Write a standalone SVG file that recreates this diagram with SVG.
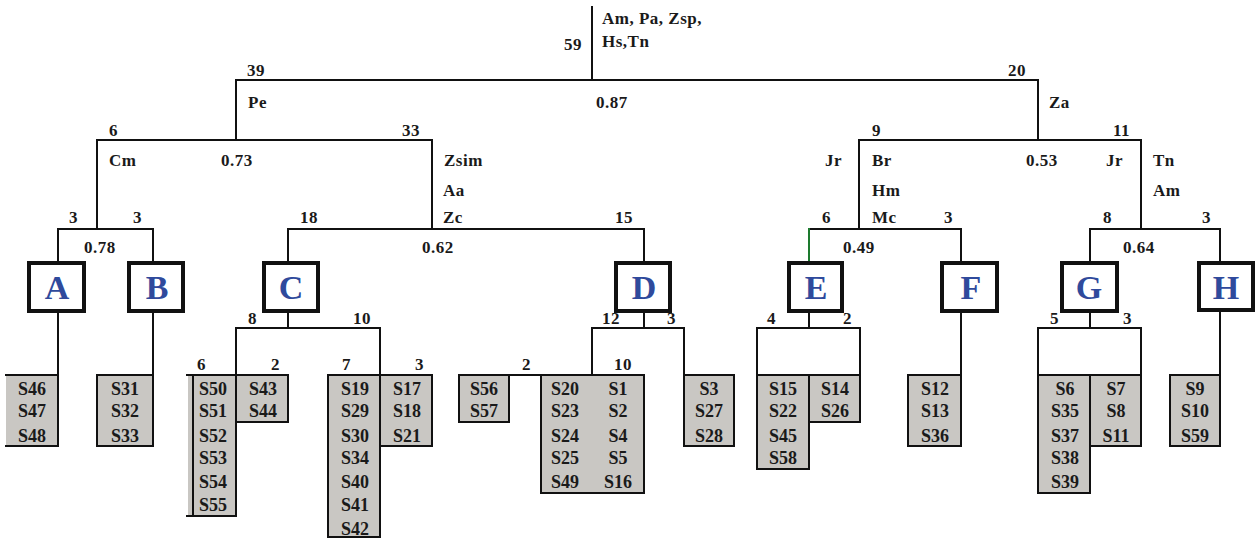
<svg xmlns="http://www.w3.org/2000/svg" width="1256" height="539" viewBox="0 0 1256 539">
<style>
.ln{stroke:#111;stroke-width:2;fill:none;stroke-linecap:square}
.lbl{font-family:"Liberation Serif","Times New Roman",serif;font-weight:bold;font-size:17px;fill:#1a1a1a;letter-spacing:0.5px}
.lt{font-family:"Liberation Serif","Times New Roman",serif;font-weight:bold;font-size:18px;fill:#1a1a1a;text-anchor:middle}
.leaf{fill:#c9c7c3}
.nb{fill:#fff;stroke:#111;stroke-width:4}
.nt{font-family:"Liberation Serif","Times New Roman",serif;font-weight:bold;font-size:34px;fill:#2f4a9c;text-anchor:middle}
</style>
<rect width="1256" height="539" fill="#fff"/>
<g id="connectors" class="ln">
<path d="M592 7V80M236 80H1038M236 80V140M1038 80V140"/>
<path d="M97 140H432M97 140V229M432 140V229M58 229H153M58 229V263M153 229V263"/>
<path d="M288 229H644M288 229V263M644 229V263"/>
<path d="M859 140H1141M859 140V229M1141 140V229"/>
<path d="M809 229H961M961 229V263"/>
<path d="M1090 229H1220M1090 229V263M1220 229V263"/>
<path d="M58 313V375M153 313V375"/>
<path d="M288 313V328M236 328H380M236 328V375M380 328V375"/>
<path d="M644 313V328M592 328H684M592 328V375M684 328V375"/>
<path d="M809 313V328M757 328H860M757 328V375M860 328V375"/>
<path d="M961 313V375M1220 312V375"/>
<path d="M1090 313V328M1038 328H1141M1038 328V375M1141 328V375"/>
<path d="M809 229V261" style="stroke:#1d7a2e"/>
</g>
<g id="labels" class="lbl">
<text x="602" y="24">Am, Pa, Zsp,</text>
<text x="602" y="47">Hs,Tn</text>
<text x="564" y="50">59</text>
<text x="247" y="76">39</text>
<text x="248" y="108">Pe</text>
<text x="596" y="108">0.87</text>
<text x="1008" y="76">20</text>
<text x="1049" y="108">Za</text>
<text x="109" y="136">6</text>
<text x="109" y="166">Cm</text>
<text x="221" y="166">0.73</text>
<text x="402" y="136">33</text>
<text x="444" y="166">Zsim</text>
<text x="443" y="196">Aa</text>
<text x="443" y="223">Zc</text>
<text x="69" y="223">3</text>
<text x="133" y="223">3</text>
<text x="84" y="253">0.78</text>
<text x="300" y="223">18</text>
<text x="615" y="223">15</text>
<text x="422" y="253">0.62</text>
<text x="872" y="136">9</text>
<text x="1113" y="136">11</text>
<text x="825" y="166">Jr</text>
<text x="872" y="166">Br</text>
<text x="1026" y="166">0.53</text>
<text x="1106" y="166">Jr</text>
<text x="1153" y="166">Tn</text>
<text x="872" y="196">Hm</text>
<text x="872" y="223">Mc</text>
<text x="1153" y="196">Am</text>
<text x="822" y="223">6</text>
<text x="944" y="223">3</text>
<text x="843" y="253">0.49</text>
<text x="1103" y="223">8</text>
<text x="1202" y="223">3</text>
<text x="1123" y="253">0.64</text>
<text x="248" y="324">8</text>
<text x="353" y="324">10</text>
<text x="602" y="324">12</text>
<text x="667" y="324">3</text>
<text x="767" y="324">4</text>
<text x="843" y="324">2</text>
<text x="1050" y="324">5</text>
<text x="1123" y="324">3</text>
<text x="197" y="370">6</text>
<text x="271" y="370">2</text>
<text x="342" y="370">7</text>
<text x="415" y="370">3</text>
<text x="522" y="370">2</text>
<text x="614" y="370">10</text>
</g>
<g id="node-A"><rect class="nb" x="29" y="263" width="55" height="48"/><text class="nt" x="57" y="299">A</text></g>
<g id="node-B"><rect class="nb" x="129" y="263" width="54" height="48"/><text class="nt" x="157" y="299">B</text></g>
<g id="node-C"><rect class="nb" x="264" y="263" width="54" height="48"/><text class="nt" x="291" y="299">C</text></g>
<g id="node-D"><rect class="nb" x="616" y="263" width="54" height="48"/><text class="nt" x="644" y="299">D</text></g>
<g id="node-E"><rect class="nb" x="789" y="263" width="53" height="48"/><text class="nt" x="816" y="299">E</text></g>
<g id="node-F"><rect class="nb" x="942" y="263" width="55" height="48"/><text class="nt" x="971" y="299">F</text></g>
<g id="node-G"><rect class="nb" x="1062" y="263" width="55" height="48"/><text class="nt" x="1089" y="299">G</text></g>
<g id="node-H"><rect class="nb" x="1199" y="263" width="54" height="47"/><text class="nt" x="1226" y="299">H</text></g>
<g id="leaf-A">
<rect class="leaf" x="6" y="375" width="52" height="71"/>
<path class="ln" d="M6 375H58V446H6"/>
<text class="lt" x="32" y="395">S46</text><text class="lt" x="32" y="417">S47</text><text class="lt" x="32" y="442">S48</text>
</g>
<g id="leaf-B">
<rect class="leaf" x="97" y="375" width="56" height="71"/>
<rect class="ln" x="97" y="375" width="56" height="71"/>
<text class="lt" x="125" y="395">S31</text><text class="lt" x="125" y="417">S32</text><text class="lt" x="125" y="442">S33</text>
</g>
<g id="leaf-C1">
<rect class="leaf" x="188" y="375" width="48" height="141"/>
<path class="ln" d="M187 375H236V516H187M193 375V516"/>
<text class="lt" x="213" y="395">S50</text><text class="lt" x="213" y="417">S51</text><text class="lt" x="213" y="442">S52</text><text class="lt" x="213" y="464">S53</text><text class="lt" x="213" y="488">S54</text><text class="lt" x="213" y="511">S55</text>
</g>
<g id="leaf-C2">
<rect class="leaf" x="236" y="375" width="52" height="47"/>
<rect class="ln" x="236" y="375" width="52" height="47"/>
<text class="lt" x="263" y="395">S43</text><text class="lt" x="263" y="417">S44</text>
</g>
<g id="leaf-C3">
<rect class="leaf" x="328" y="375" width="52" height="163"/>
<rect class="ln" x="328" y="375" width="52" height="162"/>
<text class="lt" x="355" y="395">S19</text><text class="lt" x="355" y="417">S29</text><text class="lt" x="355" y="442">S30</text><text class="lt" x="355" y="464">S34</text><text class="lt" x="355" y="488">S40</text><text class="lt" x="355" y="511">S41</text><text class="lt" x="355" y="535">S42</text>
</g>
<g id="leaf-C4">
<rect class="leaf" x="380" y="375" width="52" height="71"/>
<rect class="ln" x="380" y="375" width="52" height="71"/>
<text class="lt" x="407" y="395">S17</text><text class="lt" x="407" y="417">S18</text><text class="lt" x="407" y="442">S21</text>
</g>
<g id="leaf-D1">
<rect class="leaf" x="459" y="375" width="50" height="47"/>
<rect class="ln" x="459" y="375" width="50" height="47"/>
<text class="lt" x="484" y="395">S56</text><text class="lt" x="484" y="417">S57</text>
</g>
<path class="ln" d="M509 375H541"/>
<g id="leaf-D2">
<rect class="leaf" x="541" y="375" width="103" height="118"/>
<rect class="ln" x="541" y="375" width="103" height="118"/>
<text class="lt" x="565" y="395">S20</text><text class="lt" x="565" y="417">S23</text><text class="lt" x="565" y="442">S24</text><text class="lt" x="565" y="464">S25</text><text class="lt" x="565" y="488">S49</text>
<text class="lt" x="618" y="395">S1</text><text class="lt" x="618" y="417">S2</text><text class="lt" x="618" y="442">S4</text><text class="lt" x="618" y="464">S5</text><text class="lt" x="618" y="488">S16</text>
</g>
<g id="leaf-D3">
<rect class="leaf" x="684" y="375" width="50" height="71"/>
<rect class="ln" x="684" y="375" width="50" height="71"/>
<text class="lt" x="709" y="395">S3</text><text class="lt" x="709" y="417">S27</text><text class="lt" x="709" y="442">S28</text>
</g>
<g id="leaf-E1">
<rect class="leaf" x="757" y="375" width="52" height="94"/>
<rect class="ln" x="757" y="375" width="52" height="94"/>
<text class="lt" x="783" y="395">S15</text><text class="lt" x="783" y="417">S22</text><text class="lt" x="783" y="442">S45</text><text class="lt" x="783" y="464">S58</text>
</g>
<g id="leaf-E2">
<rect class="leaf" x="809" y="375" width="51" height="47"/>
<rect class="ln" x="809" y="375" width="51" height="47"/>
<text class="lt" x="835" y="395">S14</text><text class="lt" x="835" y="417">S26</text>
</g>
<g id="leaf-F">
<rect class="leaf" x="908" y="375" width="53" height="71"/>
<rect class="ln" x="908" y="375" width="53" height="71"/>
<text class="lt" x="935" y="395">S12</text><text class="lt" x="935" y="417">S13</text><text class="lt" x="935" y="442">S36</text>
</g>
<g id="leaf-G1">
<rect class="leaf" x="1038" y="375" width="52" height="118"/>
<rect class="ln" x="1038" y="375" width="52" height="118"/>
<text class="lt" x="1065" y="395">S6</text><text class="lt" x="1065" y="417">S35</text><text class="lt" x="1065" y="442">S37</text><text class="lt" x="1065" y="464">S38</text><text class="lt" x="1065" y="488">S39</text>
</g>
<g id="leaf-G2">
<rect class="leaf" x="1090" y="375" width="51" height="71"/>
<rect class="ln" x="1090" y="375" width="51" height="71"/>
<text class="lt" x="1116" y="395">S7</text><text class="lt" x="1116" y="417">S8</text><text class="lt" x="1116" y="442">S11</text>
</g>
<g id="leaf-H">
<rect class="leaf" x="1170" y="375" width="50" height="71"/>
<rect class="ln" x="1170" y="375" width="50" height="71"/>
<text class="lt" x="1195" y="395">S9</text><text class="lt" x="1195" y="417">S10</text><text class="lt" x="1195" y="442">S59</text>
</g>
</svg>
